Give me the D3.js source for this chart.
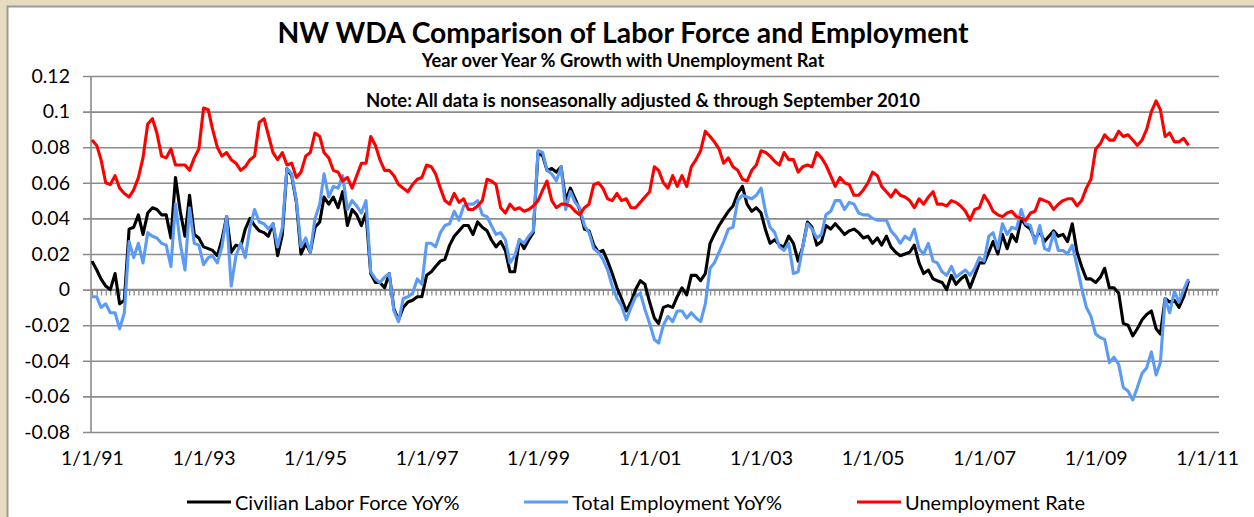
<!DOCTYPE html>
<html>
<head>
<meta charset="utf-8">
<script src="https://cdn.jsdelivr.net/npm/d3@7"></script>
<style>
  html, body { margin: 0; padding: 0; background: #e7dcc1; }
  svg { display: block; }
  text { font-family: Lato, "Open Sans", sans-serif; fill: #000; }
</style>
</head>
<body>
<svg id="chart" width="1254" height="517"></svg>
<script>
// monthly series, Jan 1991 .. Sep 2010
const startYear = 1991;
const laborForce = [
  0.016, 0.011, 0.006, 0.002, 0.000, 0.009, -0.008, -0.006, 0.034, 0.035, 0.042, 0.031,
  0.043, 0.046, 0.045, 0.042, 0.042, 0.029, 0.063, 0.044, 0.030, 0.053, 0.031, 0.029,
  0.024, 0.023, 0.022, 0.019, 0.028, 0.041, 0.021, 0.025, 0.024, 0.034, 0.040, 0.036,
  0.033, 0.032, 0.030, 0.037, 0.019, 0.031, 0.068, 0.064, 0.049, 0.020, 0.026, 0.021,
  0.035, 0.038, 0.052, 0.048, 0.052, 0.046, 0.055, 0.036, 0.045, 0.042, 0.036, 0.043,
  0.009, 0.004, 0.004, 0.001, 0.009, -0.011, -0.017, -0.010, -0.007, -0.006, -0.004, -0.004,
  0.008, 0.010, 0.013, 0.016, 0.017, 0.025, 0.030, 0.033, 0.036, 0.036, 0.031, 0.038,
  0.035, 0.033, 0.028, 0.024, 0.027, 0.022, 0.010, 0.010, 0.028, 0.023, 0.028, 0.032,
  0.077, 0.075, 0.067, 0.068, 0.066, 0.069, 0.050, 0.057, 0.051, 0.045, 0.034, 0.033,
  0.025, 0.021, 0.022, 0.016, 0.009, 0.001, -0.005, -0.012, -0.007, 0.000, 0.005, 0.003,
  -0.007, -0.016, -0.019, -0.010, -0.009, -0.010, -0.004, 0.001, -0.003, 0.008, 0.008, 0.005,
  0.009, 0.026, 0.031, 0.036, 0.040, 0.044, 0.047, 0.054, 0.058, 0.048, 0.044, 0.046,
  0.043, 0.033, 0.026, 0.028, 0.025, 0.024, 0.030, 0.026, 0.016, 0.024, 0.038, 0.035,
  0.025, 0.027, 0.036, 0.034, 0.037, 0.034, 0.031, 0.033, 0.034, 0.032, 0.029, 0.030,
  0.026, 0.029, 0.025, 0.030, 0.024, 0.021, 0.019, 0.020, 0.021, 0.025, 0.015, 0.009,
  0.011, 0.006, 0.005, 0.004, 0.000, 0.008, 0.003, 0.006, 0.008, 0.001, 0.008, 0.015,
  0.015, 0.021, 0.027, 0.020, 0.031, 0.023, 0.031, 0.027, 0.040, 0.036, 0.034, 0.028,
  0.033, 0.027, 0.030, 0.033, 0.030, 0.031, 0.027, 0.037, 0.021, 0.013, 0.006, 0.006,
  0.004, 0.007, 0.012, 0.001, 0.001, -0.002, -0.019, -0.020, -0.026, -0.022, -0.017, -0.014,
  -0.012, -0.022, -0.025, -0.005, -0.007, -0.006, -0.010, -0.004, 0.005
];
const employment = [
  -0.004, -0.004, -0.010, -0.008, -0.013, -0.013, -0.022, -0.013, 0.027, 0.018, 0.026, 0.015,
  0.032, 0.030, 0.029, 0.026, 0.025, 0.013, 0.048, 0.026, 0.011, 0.046, 0.026, 0.025,
  0.014, 0.018, 0.019, 0.015, 0.024, 0.041, 0.002, 0.019, 0.026, 0.018, 0.035, 0.045,
  0.038, 0.037, 0.034, 0.037, 0.024, 0.035, 0.068, 0.065, 0.050, 0.024, 0.029, 0.021,
  0.040, 0.048, 0.065, 0.052, 0.058, 0.057, 0.064, 0.045, 0.050, 0.047, 0.043, 0.050,
  0.010, 0.006, 0.004, 0.007, 0.009, -0.012, -0.018, -0.005, -0.004, -0.002, 0.006, 0.003,
  0.026, 0.026, 0.024, 0.032, 0.036, 0.037, 0.044, 0.039, 0.047, 0.048, 0.048, 0.050,
  0.042, 0.041, 0.036, 0.031, 0.032, 0.028, 0.015, 0.019, 0.028, 0.026, 0.030, 0.033,
  0.078, 0.077, 0.067, 0.065, 0.061, 0.069, 0.045, 0.055, 0.049, 0.046, 0.036, 0.032,
  0.023, 0.021, 0.017, 0.011, 0.002, -0.005, -0.009, -0.017, -0.010, -0.004, -0.002, -0.011,
  -0.019, -0.028, -0.030, -0.020, -0.015, -0.018, -0.012, -0.012, -0.016, -0.013, -0.016, -0.018,
  -0.008, 0.012, 0.015, 0.021, 0.027, 0.034, 0.035, 0.050, 0.053, 0.052, 0.051, 0.053,
  0.057, 0.043, 0.035, 0.032, 0.024, 0.022, 0.026, 0.009, 0.010, 0.024, 0.037, 0.034,
  0.029, 0.031, 0.042, 0.044, 0.050, 0.050, 0.045, 0.049, 0.048, 0.043, 0.042, 0.042,
  0.040, 0.039, 0.039, 0.039, 0.033, 0.030, 0.026, 0.030, 0.028, 0.034, 0.023, 0.020,
  0.026, 0.016, 0.015, 0.010, 0.008, 0.013, 0.007, 0.009, 0.011, 0.008, 0.012, 0.018,
  0.016, 0.030, 0.032, 0.023, 0.037, 0.031, 0.035, 0.034, 0.045, 0.037, 0.036, 0.026,
  0.036, 0.023, 0.022, 0.032, 0.022, 0.022, 0.020, 0.025, 0.013, 0.001, -0.010, -0.015,
  -0.025, -0.027, -0.028, -0.041, -0.038, -0.042, -0.055, -0.057, -0.062, -0.055, -0.047, -0.044,
  -0.035, -0.048, -0.041, -0.005, -0.013, -0.001, -0.007, 0.000, 0.006
];
const unemployment = [
  0.084, 0.081, 0.073, 0.060, 0.059, 0.064, 0.057, 0.054, 0.052, 0.056, 0.063, 0.074,
  0.093, 0.096, 0.088, 0.075, 0.074, 0.079, 0.070, 0.070, 0.070, 0.067, 0.074, 0.079,
  0.102, 0.101, 0.090, 0.080, 0.075, 0.077, 0.073, 0.071, 0.067, 0.069, 0.073, 0.075,
  0.094, 0.096, 0.087, 0.077, 0.073, 0.077, 0.070, 0.071, 0.063, 0.066, 0.075, 0.077,
  0.088, 0.086, 0.077, 0.074, 0.067, 0.066, 0.061, 0.063, 0.057, 0.064, 0.071, 0.071,
  0.086, 0.081, 0.073, 0.067, 0.067, 0.064, 0.059, 0.057, 0.055, 0.059, 0.062, 0.063,
  0.070, 0.069, 0.065, 0.057, 0.050, 0.048, 0.054, 0.049, 0.051, 0.045, 0.045, 0.047,
  0.050, 0.062, 0.061, 0.059, 0.046, 0.043, 0.048, 0.045, 0.046, 0.044, 0.045, 0.047,
  0.050, 0.056, 0.061, 0.050, 0.046, 0.048, 0.048, 0.047, 0.044, 0.042, 0.046, 0.048,
  0.059, 0.060, 0.057, 0.051, 0.050, 0.054, 0.050, 0.051, 0.046, 0.046, 0.049, 0.052,
  0.055, 0.069, 0.067, 0.060, 0.057, 0.064, 0.058, 0.064, 0.058, 0.069, 0.073, 0.078,
  0.089, 0.086, 0.083, 0.079, 0.071, 0.074, 0.069, 0.067, 0.062, 0.061, 0.067, 0.070,
  0.078, 0.077, 0.075, 0.072, 0.070, 0.077, 0.073, 0.073, 0.066, 0.069, 0.070, 0.069,
  0.077, 0.074, 0.070, 0.064, 0.058, 0.063, 0.060, 0.059, 0.053, 0.053, 0.056, 0.060,
  0.066, 0.064, 0.058, 0.055, 0.052, 0.056, 0.053, 0.052, 0.050, 0.046, 0.051, 0.048,
  0.052, 0.055, 0.048, 0.048, 0.047, 0.050, 0.049, 0.047, 0.044, 0.039, 0.045, 0.046,
  0.053, 0.049, 0.044, 0.042, 0.041, 0.043, 0.044, 0.041, 0.040, 0.039, 0.043, 0.044,
  0.051, 0.050, 0.049, 0.045, 0.048, 0.050, 0.051, 0.051, 0.047, 0.050, 0.057, 0.062,
  0.079, 0.082, 0.087, 0.084, 0.084, 0.089, 0.086, 0.087, 0.084, 0.081, 0.084, 0.090,
  0.100, 0.106, 0.101, 0.086, 0.088, 0.083, 0.083, 0.085, 0.081
];
const seriesNames = ['Civilian Labor Force YoY%', 'Total Employment YoY%', 'Unemployment Rate'];
const seriesColors = ['#000000', '#5b9bf5', '#ff0000'];
const yTicks = [-0.08, -0.06, -0.04, -0.02, 0, 0.02, 0.04, 0.06, 0.08, 0.1, 0.12];
const xTickYears = [1991, 1993, 1995, 1997, 1999, 2001, 2003, 2005, 2007, 2009, 2011];

const svg = d3.select('#chart');
const W = 1254, H = 517;
const plot = { left: 91, right: 1219, top: 76, bottom: 432 };

// white chart area with thin grey edge
svg.append('rect').attr('x', 7.5).attr('y', 6.5).attr('width', W).attr('height', H)
    .attr('fill', '#fff').attr('stroke', '#9a9a9a').attr('stroke-width', 2);

const x = d3.scaleTime()
    .domain([new Date(1991, 0, 1), new Date(2011, 2, 20)])
    .range([plot.left + 1, plot.right]);
const y = d3.scaleLinear()
    .domain([-0.08, 0.12])
    .range([plot.bottom, plot.top]);

const gridColor = '#8c8c8c';

// horizontal gridlines + y labels
const yAxis = d3.axisLeft(y)
    .tickValues(yTicks)
    .tickSize(0)
    .tickFormat(d => String(+d.toFixed(2)));
const gy = svg.append('g')
    .attr('transform', `translate(${plot.left - 8},0)`)
    .call(yAxis);
gy.select('.domain').remove();
gy.selectAll('.tick line').attr('stroke', gridColor).attr('stroke-width', 1.6)
    .attr('x1', 0).attr('x2', plot.right - plot.left + 8);
gy.selectAll('.tick text')
    .attr('x', -13)
    .style('font-family', 'Lato, sans-serif')
    .style('font-size', '19.5px')
    .attr('fill', '#000');

// vertical axis line
svg.append('line')
    .attr('x1', plot.left).attr('x2', plot.left)
    .attr('y1', plot.top).attr('y2', plot.bottom)
    .attr('stroke', gridColor).attr('stroke-width', 1.6);

// monthly tick marks hanging from the zero line
const monthAxis = d3.axisBottom(x)
    .ticks(d3.timeMonth.every(1))
    .tickSize(6)
    .tickFormat('');
const gm = svg.append('g')
    .attr('transform', `translate(0,${y(0)})`)
    .call(monthAxis);
gm.select('.domain').attr('stroke', gridColor).attr('stroke-width', 1.6)
    .attr('d', `M${plot.left},0H${plot.right}`);
gm.selectAll('.tick line').attr('stroke', gridColor).attr('stroke-width', 1.3);

// date labels along the bottom
const xAxis = d3.axisBottom(x)
    .tickValues(xTickYears.map(yr => new Date(yr, 0, 1)))
    .tickSize(0)
    .tickPadding(0)
    .tickFormat(d3.timeFormat('%-m/%-d/%y'));
const gx = svg.append('g')
    .attr('transform', `translate(0,${plot.bottom + 19})`)
    .call(xAxis);
gx.select('.domain').remove();
gx.selectAll('.tick text')
    .attr('dy', '0.7em')
    .style('font-family', 'Lato, sans-serif')
    .style('font-size', '19.5px')
    .attr('fill', '#000');

// series lines
const allSeries = [laborForce, employment, unemployment];
const line = d3.line()
    .x((d, i) => x(new Date(startYear, i, 1)))
    .y(d => y(d));
allSeries.forEach((vals, k) => {
    svg.append('path')
        .datum(vals)
        .attr('fill', 'none')
        .attr('stroke', seriesColors[k])
        .attr('stroke-width', 3.1)
        .attr('stroke-linejoin', 'round')
        .attr('d', line);
});

// titles
svg.append('text').attr('x', 623).attr('y', 43).attr('text-anchor', 'middle')
    .style('font-size', '28.3px').style('font-weight', 'bold')
    .text('NW WDA Comparison of Labor Force and Employment');
svg.append('text').attr('x', 623).attr('y', 67).attr('text-anchor', 'middle')
    .style('font-size', '18.3px').style('font-weight', 'bold')
    .text('Year over Year % Growth with Unemployment Rat');
svg.append('text').attr('x', 643).attr('y', 107).attr('text-anchor', 'middle')
    .style('font-size', '18.5px').style('font-weight', 'bold')
    .text('Note: All data is nonseasonally adjusted & through September 2010');

// legend
const legendX = [187, 524, 857];
legendX.forEach((lx, k) => {
    svg.append('line')
        .attr('x1', lx).attr('x2', lx + 44)
        .attr('y1', 502).attr('y2', 502)
        .attr('stroke', seriesColors[k]).attr('stroke-width', 3.1);
    svg.append('text')
        .attr('x', lx + 48).attr('y', 503).attr('dy', '0.35em')
        .style('font-size', '20px')
        .text(seriesNames[k]);
});
</script>
</body>
</html>
